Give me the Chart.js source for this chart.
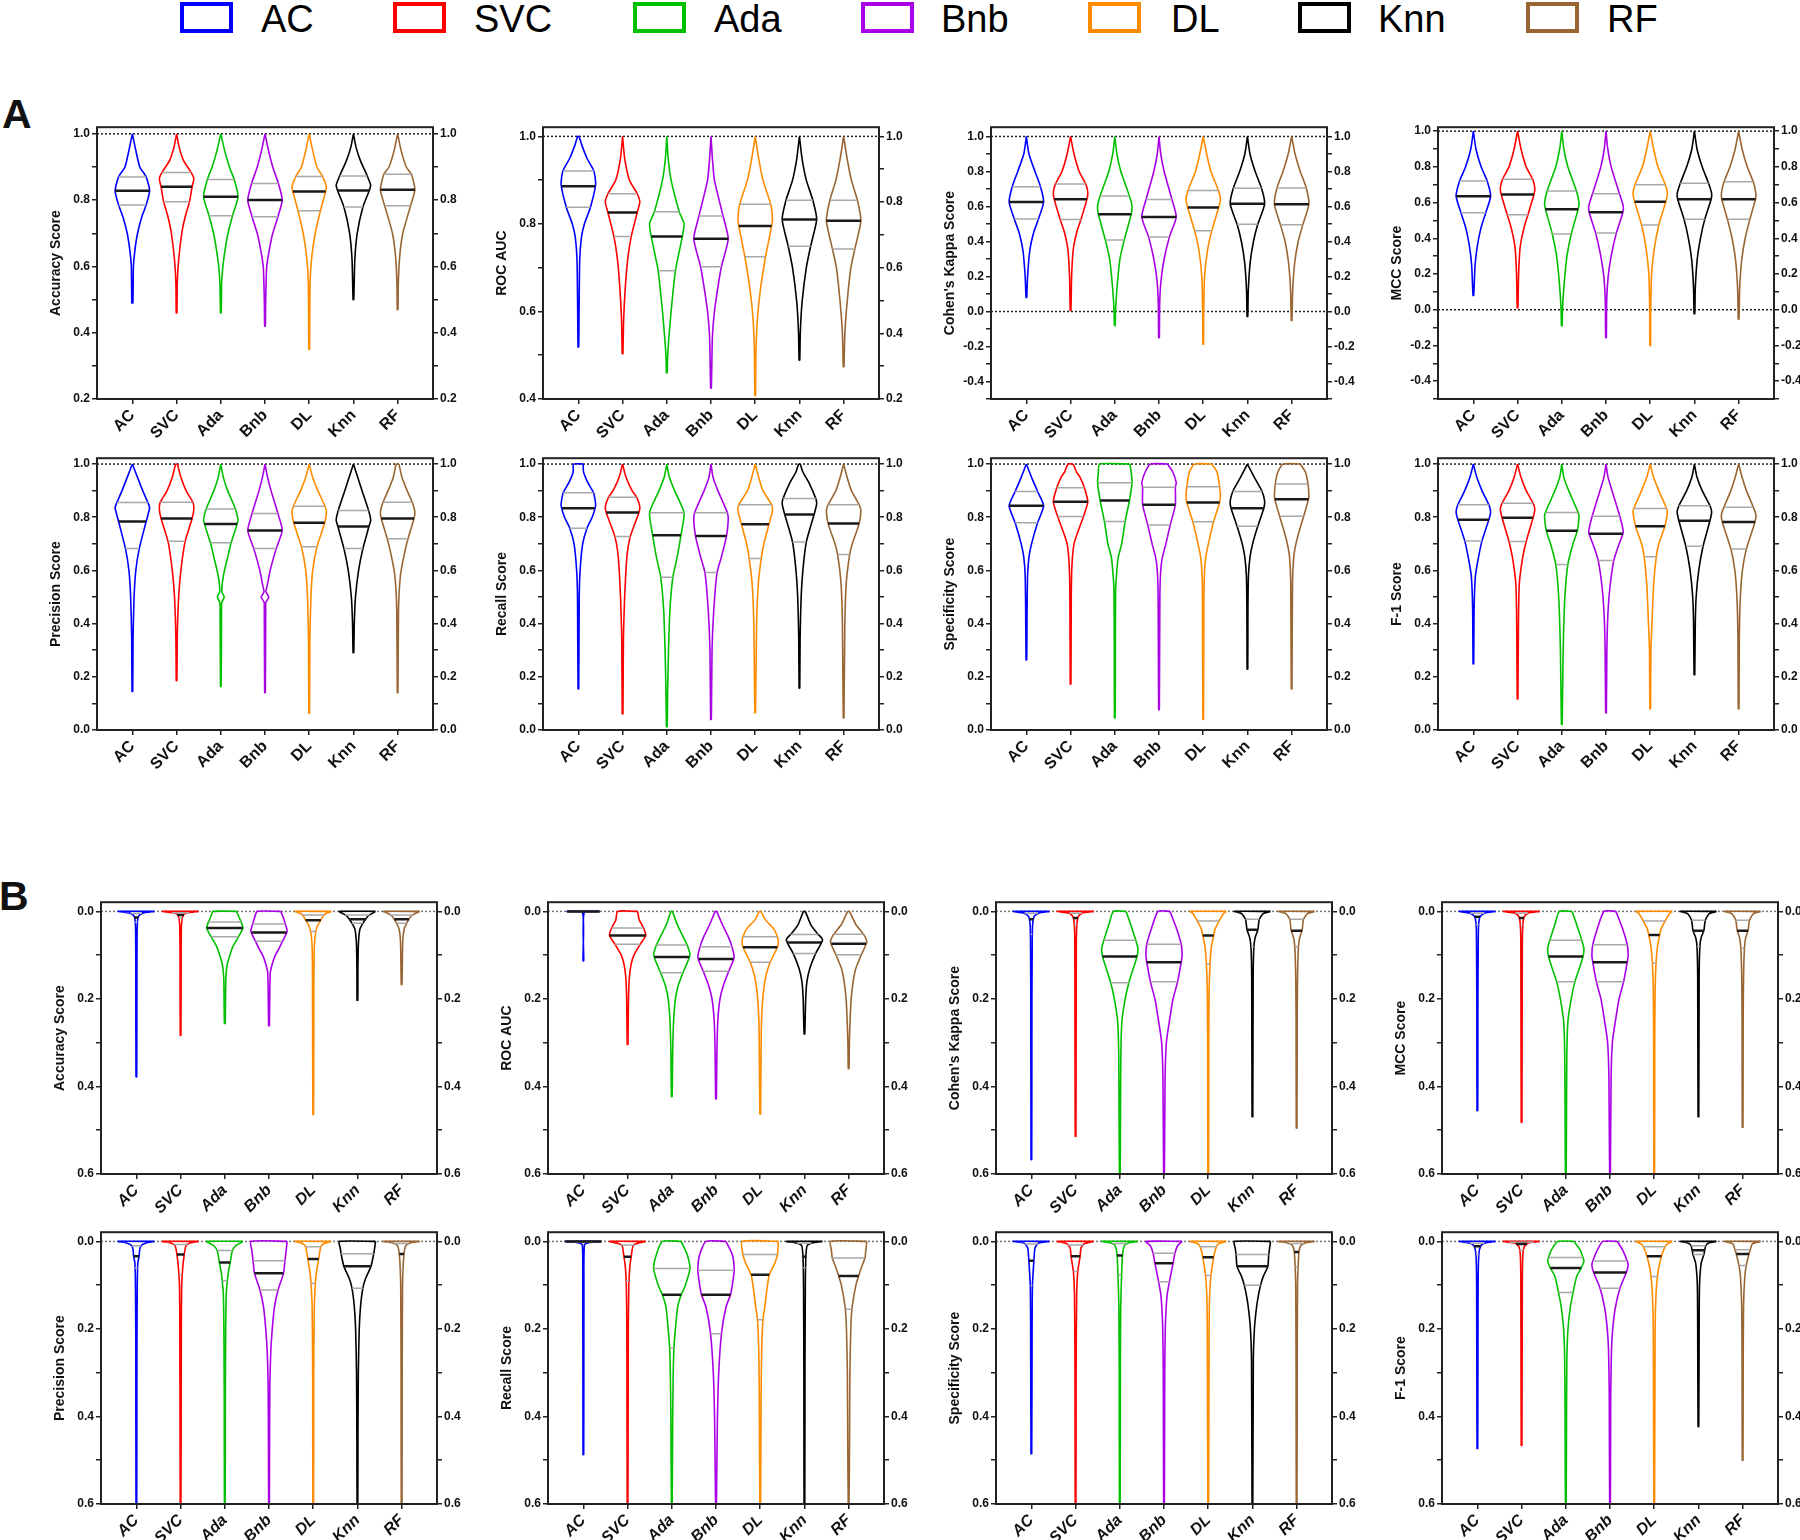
<!DOCTYPE html>
<html>
<head>
<meta charset="utf-8">
<script src="https://cdn.jsdelivr.net/npm/chart.js@4.4.1/dist/chart.umd.min.js"></script>
<style>
  body { margin: 0; width: 1800px; height: 1540px; background: #fff; position: relative; overflow: hidden; font-family: 'Liberation Sans', Arial, sans-serif; }
  .lg-box { position: absolute; top: 2px; width: 45px; height: 23px; border: 4px solid; }
  .lg-txt { position: absolute; top: 0; font-size: 38px; line-height: 38px; color: #000; }
  .letter { position: absolute; font-size: 41px; line-height: 41px; font-weight: bold; color: #111; }
</style>
</head>
<body>
<div class="letter" style="left:2px;top:94px">A</div>
<div class="letter" style="left:-1px;top:876px">B</div>
<div id="legend"></div>
<script>
// ---- data ----
const models = ['AC', 'SVC', 'Ada', 'Bnb', 'DL', 'Knn', 'RF'];
const colors = ['#0000ff', '#ff0000', '#00c000', '#aa00e6', '#ff8c00', '#000000', '#996633'];

// quartiles per model: [lower quartile, median, upper quartile]
// violin outlines: [value, relative half width] knots, top to bottom

// A - accuracy
const accA_q = [[0.785,0.828,0.870],[0.795,0.840,0.883],[0.753,0.810,0.862],[0.750,0.800,0.850],[0.768,0.826,0.871],[0.779,0.829,0.873],[0.783,0.831,0.878]];
const accA_v = [
  [[1,0],[0.95,0.2],[0.9,0.43],[0.87,0.8],[0.828,1],[0.785,0.8],[0.75,0.55],[0.7,0.3],[0.65,0.15],[0.6,0.06],[0.49,0.03]],
  [[1,0],[0.96,0.15],[0.92,0.4],[0.883,0.85],[0.865,1],[0.84,0.9],[0.795,0.75],[0.75,0.5],[0.7,0.3],[0.62,0.12],[0.55,0.04],[0.46,0.02]],
  [[1,0],[0.95,0.22],[0.9,0.5],[0.862,0.78],[0.81,1],[0.753,0.68],[0.7,0.42],[0.65,0.25],[0.6,0.12],[0.55,0.05],[0.46,0.02]],
  [[1,0],[0.95,0.2],[0.9,0.45],[0.85,0.78],[0.8,1],[0.75,0.75],[0.7,0.45],[0.65,0.25],[0.6,0.1],[0.5,0.04],[0.42,0.02]],
  [[1,0],[0.95,0.2],[0.9,0.45],[0.871,0.78],[0.84,1],[0.826,0.95],[0.768,0.65],[0.7,0.35],[0.63,0.15],[0.55,0.05],[0.35,0.02]],
  [[1,0],[0.96,0.15],[0.92,0.4],[0.873,0.8],[0.845,1],[0.829,0.92],[0.779,0.55],[0.7,0.22],[0.62,0.08],[0.5,0.02]],
  [[1,0],[0.95,0.2],[0.9,0.5],[0.878,0.8],[0.831,1],[0.783,0.75],[0.7,0.3],[0.63,0.12],[0.55,0.04],[0.47,0.02]]
];

// A - ROC AUC
const rocA_q = [[0.838,0.886,0.921],[0.771,0.826,0.869],[0.693,0.771,0.828],[0.702,0.766,0.818],[0.725,0.795,0.845],[0.749,0.810,0.854],[0.743,0.807,0.854]];
const rocA_v = [
  [[1,0.04],[0.98,0.2],[0.95,0.5],[0.921,0.9],[0.89,1],[0.838,0.7],[0.8,0.35],[0.77,0.18],[0.72,0.08],[0.6,0.04],[0.519,0.02]],
  [[1,0],[0.95,0.12],[0.9,0.4],[0.869,0.85],[0.85,1],[0.826,0.85],[0.771,0.5],[0.72,0.3],[0.65,0.15],[0.58,0.06],[0.504,0.02]],
  [[1,0],[0.95,0.08],[0.9,0.25],[0.828,0.72],[0.8,1],[0.771,0.9],[0.693,0.5],[0.6,0.25],[0.53,0.1],[0.49,0.04],[0.46,0.02]],
  [[1,0],[0.95,0.08],[0.9,0.2],[0.818,0.7],[0.766,1],[0.702,0.6],[0.65,0.38],[0.6,0.2],[0.54,0.08],[0.425,0.02]],
  [[1,0],[0.95,0.2],[0.9,0.45],[0.845,0.9],[0.81,1],[0.795,0.95],[0.725,0.6],[0.65,0.3],[0.58,0.12],[0.5,0.04],[0.408,0.02]],
  [[1,0],[0.95,0.15],[0.9,0.4],[0.854,0.78],[0.81,1],[0.749,0.65],[0.7,0.4],[0.62,0.15],[0.55,0.05],[0.489,0.02]],
  [[1,0],[0.95,0.2],[0.9,0.45],[0.854,0.8],[0.807,1],[0.743,0.65],[0.7,0.42],[0.62,0.2],[0.55,0.07],[0.474,0.02]]
];

// A - Cohen's kappa
const kapA_q = [[0.528,0.626,0.713],[0.525,0.642,0.728],[0.409,0.555,0.660],[0.425,0.540,0.640],[0.462,0.594,0.692],[0.498,0.615,0.704],[0.496,0.613,0.706]];
const kapA_v = [
  [[1,0],[0.9,0.15],[0.8,0.5],[0.713,0.82],[0.626,1],[0.528,0.7],[0.45,0.42],[0.35,0.2],[0.2,0.07],[0.081,0.02]],
  [[1,0],[0.9,0.2],[0.8,0.5],[0.728,0.88],[0.68,1],[0.642,0.95],[0.525,0.6],[0.45,0.35],[0.35,0.15],[0.2,0.06],[0.006,0.02]],
  [[1,0],[0.9,0.12],[0.8,0.35],[0.66,0.85],[0.6,1],[0.555,0.95],[0.409,0.55],[0.3,0.3],[0.15,0.14],[0,0.04],[-0.079,0.02]],
  [[1,0],[0.9,0.1],[0.8,0.3],[0.64,0.75],[0.54,1],[0.425,0.6],[0.3,0.3],[0.18,0.12],[0.05,0.04],[-0.149,0.02]],
  [[1,0],[0.9,0.2],[0.8,0.45],[0.692,0.88],[0.64,1],[0.594,0.9],[0.462,0.5],[0.35,0.25],[0.2,0.08],[0,0.03],[-0.187,0.02]],
  [[1,0],[0.9,0.15],[0.8,0.45],[0.704,0.82],[0.615,1],[0.498,0.6],[0.4,0.35],[0.28,0.16],[0.12,0.05],[-0.028,0.02]],
  [[1,0],[0.9,0.2],[0.8,0.5],[0.706,0.85],[0.613,1],[0.496,0.65],[0.4,0.38],[0.28,0.18],[0.12,0.06],[-0.051,0.02]]
];

// A - MCC
const mccA_q = [[0.543,0.636,0.721],[0.532,0.645,0.730],[0.424,0.563,0.665],[0.429,0.546,0.649],[0.474,0.604,0.700],[0.506,0.619,0.708],[0.506,0.619,0.716]];
const mccA_v = [
  [[1,0],[0.9,0.15],[0.8,0.45],[0.721,0.8],[0.636,1],[0.543,0.72],[0.45,0.42],[0.35,0.22],[0.25,0.1],[0.08,0.02]],
  [[1,0],[0.9,0.2],[0.8,0.5],[0.73,0.88],[0.68,1],[0.645,0.95],[0.532,0.6],[0.45,0.35],[0.35,0.15],[0.2,0.06],[0.011,0.02]],
  [[1,0],[0.9,0.12],[0.8,0.35],[0.665,0.85],[0.6,1],[0.563,0.95],[0.424,0.55],[0.3,0.3],[0.15,0.14],[0,0.04],[-0.089,0.02]],
  [[1,0],[0.9,0.1],[0.8,0.3],[0.649,0.78],[0.58,1],[0.546,0.98],[0.429,0.6],[0.3,0.3],[0.18,0.12],[0.05,0.04],[-0.156,0.02]],
  [[1,0],[0.9,0.2],[0.8,0.45],[0.7,0.88],[0.65,1],[0.604,0.9],[0.474,0.5],[0.35,0.25],[0.2,0.08],[0,0.03],[-0.2,0.02]],
  [[1,0],[0.9,0.15],[0.8,0.45],[0.708,0.82],[0.65,1],[0.619,0.97],[0.506,0.6],[0.4,0.35],[0.28,0.16],[0.12,0.05],[-0.022,0.02]],
  [[1,0],[0.9,0.2],[0.8,0.5],[0.716,0.85],[0.65,1],[0.619,0.98],[0.506,0.65],[0.4,0.38],[0.28,0.18],[0.12,0.06],[-0.052,0.02]]
];

// A - precision
const preA_q = [[0.682,0.784,0.855],[0.710,0.795,0.856],[0.704,0.775,0.831],[0.682,0.750,0.814],[0.689,0.779,0.841],[0.682,0.765,0.825],[0.719,0.795,0.856]];
const preA_v = [
  [[1,0],[0.95,0.3],[0.9,0.6],[0.855,0.9],[0.835,1],[0.784,0.8],[0.682,0.4],[0.6,0.2],[0.5,0.1],[0.35,0.04],[0.145,0.02]],
  [[1,0.05],[0.95,0.25],[0.9,0.55],[0.856,0.95],[0.83,1],[0.795,0.9],[0.71,0.5],[0.6,0.25],[0.5,0.12],[0.35,0.04],[0.186,0.02]],
  [[1,0],[0.95,0.15],[0.9,0.4],[0.831,0.85],[0.79,1],[0.775,0.95],[0.704,0.6],[0.65,0.4],[0.58,0.15],[0.52,0.06],[0.5,0.2],[0.48,0.06],[0.45,0.04],[0.164,0.02]],
  [[1,0],[0.95,0.15],[0.9,0.35],[0.814,0.75],[0.75,1],[0.682,0.65],[0.6,0.3],[0.54,0.12],[0.52,0.05],[0.5,0.22],[0.48,0.05],[0.46,0.04],[0.141,0.02]],
  [[1,0],[0.95,0.2],[0.9,0.5],[0.841,0.92],[0.82,1],[0.779,0.9],[0.689,0.45],[0.6,0.2],[0.5,0.1],[0.35,0.04],[0.064,0.02]],
  [[1,0],[0.95,0.25],[0.9,0.5],[0.825,0.88],[0.79,1],[0.765,0.9],[0.682,0.55],[0.6,0.3],[0.5,0.12],[0.4,0.05],[0.291,0.02]],
  [[1,0.08],[0.95,0.25],[0.9,0.55],[0.856,0.85],[0.82,1],[0.795,0.95],[0.719,0.6],[0.65,0.35],[0.58,0.16],[0.45,0.05],[0.141,0.02]]
];

// A - recall
const recA_q = [[0.759,0.834,0.892],[0.728,0.818,0.875],[0.574,0.732,0.817],[0.592,0.729,0.817],[0.645,0.774,0.847],[0.707,0.810,0.870],[0.660,0.776,0.847]];
const recA_v = [
  [[1,0.28],[0.97,0.3],[0.93,0.55],[0.892,0.88],[0.845,1],[0.8,0.8],[0.759,0.5],[0.7,0.25],[0.6,0.1],[0.5,0.05],[0.155,0.02]],
  [[1,0],[0.95,0.2],[0.9,0.55],[0.875,0.82],[0.84,1],[0.818,0.95],[0.728,0.45],[0.65,0.25],[0.5,0.12],[0.35,0.05],[0.061,0.02]],
  [[1,0],[0.95,0.15],[0.9,0.45],[0.817,1],[0.732,0.82],[0.65,0.6],[0.574,0.35],[0.45,0.18],[0.3,0.1],[0.15,0.05],[0.012,0.02]],
  [[1,0],[0.95,0.12],[0.9,0.4],[0.817,0.95],[0.79,1],[0.729,0.9],[0.65,0.6],[0.592,0.35],[0.45,0.16],[0.3,0.06],[0.04,0.02]],
  [[1,0],[0.95,0.2],[0.9,0.45],[0.847,0.95],[0.825,1],[0.774,0.8],[0.7,0.5],[0.645,0.35],[0.55,0.18],[0.4,0.08],[0.065,0.02]],
  [[1,0.05],[0.97,0.2],[0.93,0.55],[0.87,0.95],[0.85,1],[0.81,0.85],[0.707,0.4],[0.6,0.2],[0.5,0.1],[0.35,0.04],[0.158,0.02]],
  [[1,0],[0.95,0.2],[0.9,0.45],[0.847,0.9],[0.825,1],[0.776,0.9],[0.7,0.5],[0.66,0.35],[0.55,0.15],[0.4,0.07],[0.046,0.02]]
];

// A - specificity
const speA_q = [[0.779,0.843,0.897],[0.803,0.858,0.911],[0.784,0.863,0.930],[0.771,0.847,0.913],[0.783,0.855,0.915],[0.766,0.834,0.897],[0.804,0.868,0.925]];
const speA_v = [
  [[1,0],[0.95,0.3],[0.897,0.65],[0.843,1],[0.779,0.65],[0.7,0.3],[0.65,0.15],[0.58,0.07],[0.45,0.04],[0.264,0.02]],
  [[1,0.15],[0.97,0.35],[0.95,0.55],[0.911,0.8],[0.858,1],[0.803,0.75],[0.75,0.45],[0.7,0.2],[0.62,0.08],[0.5,0.04],[0.173,0.02]],
  [[1,0.88],[0.97,0.95],[0.93,1],[0.863,0.85],[0.784,0.6],[0.7,0.4],[0.65,0.2],[0.6,0.12],[0.53,0.05],[0.3,0.03],[0.046,0.02]],
  [[1,0.5],[0.97,0.8],[0.93,1],[0.913,0.95],[0.847,0.95],[0.771,0.65],[0.7,0.4],[0.65,0.2],[0.6,0.1],[0.5,0.05],[0.077,0.02]],
  [[1,0.5],[0.97,0.8],[0.915,0.95],[0.88,1],[0.855,0.95],[0.783,0.6],[0.7,0.3],[0.65,0.15],[0.6,0.08],[0.5,0.04],[0.04,0.02]],
  [[1,0],[0.95,0.4],[0.897,0.85],[0.86,1],[0.834,0.95],[0.766,0.6],[0.7,0.3],[0.65,0.15],[0.58,0.06],[0.45,0.03],[0.229,0.02]],
  [[1,0.5],[0.97,0.8],[0.925,0.95],[0.88,1],[0.868,0.98],[0.804,0.7],[0.75,0.45],[0.7,0.25],[0.65,0.12],[0.55,0.05],[0.155,0.02]]
];

// A - F-1
const f1A_q = [[0.711,0.791,0.847],[0.709,0.798,0.853],[0.622,0.749,0.818],[0.637,0.738,0.804],[0.651,0.766,0.833],[0.691,0.787,0.843],[0.681,0.782,0.838]];
const f1A_v = [
  [[1,0],[0.95,0.2],[0.9,0.5],[0.847,0.9],[0.82,1],[0.791,0.9],[0.711,0.5],[0.65,0.3],[0.58,0.12],[0.45,0.04],[0.249,0.02]],
  [[1,0],[0.95,0.2],[0.9,0.5],[0.853,0.9],[0.83,1],[0.798,0.9],[0.709,0.5],[0.65,0.3],[0.55,0.1],[0.4,0.05],[0.117,0.02]],
  [[1,0],[0.95,0.12],[0.9,0.4],[0.818,0.95],[0.8,1],[0.749,0.9],[0.7,0.65],[0.622,0.35],[0.5,0.18],[0.3,0.08],[0.021,0.02]],
  [[1,0],[0.95,0.12],[0.9,0.35],[0.804,0.8],[0.75,1],[0.738,0.98],[0.68,0.65],[0.637,0.45],[0.55,0.25],[0.45,0.12],[0.3,0.05],[0.065,0.02]],
  [[1,0],[0.95,0.2],[0.9,0.5],[0.833,0.95],[0.82,1],[0.766,0.85],[0.7,0.5],[0.651,0.35],[0.55,0.2],[0.4,0.1],[0.3,0.04],[0.08,0.02]],
  [[1,0],[0.95,0.15],[0.9,0.45],[0.843,0.9],[0.82,1],[0.787,0.9],[0.691,0.5],[0.6,0.25],[0.5,0.1],[0.4,0.05],[0.208,0.02]],
  [[1,0],[0.95,0.2],[0.9,0.45],[0.838,0.85],[0.81,1],[0.782,0.95],[0.681,0.45],[0.6,0.22],[0.5,0.1],[0.35,0.04],[0.08,0.02]]
];

// B - accuracy
const accB_q = [[0.005,0.014,0.025],[0.003,0.008,0.015],[0.024,0.038,0.058],[0.029,0.048,0.068],[0.008,0.020,0.046],[0.008,0.018,0.027],[0.008,0.018,0.027]];
const accB_v = [
  [[0,1],[0.004,0.35],[0.01,0.14],[0.02,0.07],[0.05,0.04],[0.15,0.03],[0.378,0.02]],
  [[0,1],[0.004,0.3],[0.01,0.13],[0.03,0.05],[0.1,0.03],[0.283,0.02]],
  [[0,0.65],[0.01,0.75],[0.024,0.9],[0.038,1],[0.058,0.75],[0.08,0.45],[0.1,0.28],[0.12,0.14],[0.15,0.06],[0.2,0.04],[0.256,0.02]],
  [[0,0.65],[0.015,0.8],[0.029,0.9],[0.045,1],[0.068,0.75],[0.085,0.55],[0.1,0.35],[0.12,0.18],[0.14,0.07],[0.2,0.04],[0.261,0.02]],
  [[0,1],[0.005,0.7],[0.01,0.55],[0.02,0.42],[0.03,0.27],[0.046,0.14],[0.08,0.06],[0.15,0.04],[0.464,0.02]],
  [[0,1],[0.005,0.8],[0.01,0.6],[0.018,0.45],[0.027,0.3],[0.04,0.14],[0.07,0.06],[0.12,0.03],[0.203,0.02]],
  [[0,1],[0.005,0.75],[0.01,0.55],[0.018,0.4],[0.027,0.28],[0.04,0.14],[0.07,0.06],[0.167,0.02]]
];

// B - ROC AUC
const rocB_q = [[0,0,0],[0.038,0.055,0.075],[0.077,0.104,0.140],[0.081,0.109,0.137],[0.058,0.082,0.116],[0.053,0.071,0.096],[0.052,0.074,0.099]];
const rocB_v = [
  [[0,0.9],[0.002,0.05],[0.113,0.02]],
  [[0,0.55],[0.02,0.65],[0.038,0.88],[0.055,1],[0.075,0.7],[0.1,0.35],[0.12,0.2],[0.15,0.1],[0.2,0.05],[0.304,0.02]],
  [[0,0.04],[0.03,0.3],[0.06,0.65],[0.077,0.85],[0.1,1],[0.14,0.62],[0.17,0.35],[0.2,0.2],[0.25,0.1],[0.32,0.05],[0.423,0.02]],
  [[0,0.04],[0.03,0.35],[0.06,0.7],[0.081,0.88],[0.105,1],[0.137,0.7],[0.17,0.4],[0.2,0.22],[0.25,0.1],[0.32,0.05],[0.428,0.02]],
  [[0,0.04],[0.02,0.3],[0.04,0.75],[0.058,0.95],[0.07,1],[0.082,0.95],[0.116,0.55],[0.15,0.3],[0.2,0.14],[0.27,0.06],[0.463,0.02]],
  [[0,0.05],[0.03,0.35],[0.05,0.7],[0.065,1],[0.096,0.62],[0.13,0.3],[0.16,0.14],[0.2,0.07],[0.28,0.02]],
  [[0,0.05],[0.03,0.4],[0.052,0.82],[0.07,1],[0.099,0.7],[0.13,0.4],[0.16,0.25],[0.2,0.14],[0.25,0.08],[0.3,0.04],[0.359,0.02]]
];

// B - Cohen's kappa
const kapB_q = [[0.005,0.018,0.052],[0.004,0.015,0.030],[0.066,0.103,0.163],[0.075,0.116,0.161],[0.022,0.055,0.120],[0.018,0.042,0.081],[0.018,0.044,0.081]];
const kapB_v = [
  [[0,1],[0.004,0.4],[0.012,0.15],[0.03,0.07],[0.06,0.05],[0.2,0.03],[0.567,0.02]],
  [[0,1],[0.004,0.35],[0.012,0.15],[0.03,0.07],[0.08,0.04],[0.514,0.02]],
  [[0,0.35],[0.03,0.6],[0.066,0.88],[0.085,1],[0.103,0.95],[0.13,0.75],[0.163,0.5],[0.2,0.3],[0.25,0.12],[0.32,0.06],[0.45,0.04],[0.6,0.02]],
  [[0,0.33],[0.04,0.7],[0.075,0.95],[0.1,1],[0.116,0.95],[0.161,0.75],[0.2,0.5],[0.25,0.3],[0.3,0.13],[0.38,0.06],[0.6,0.02]],
  [[0,1],[0.005,0.85],[0.022,0.6],[0.04,0.38],[0.055,0.3],[0.08,0.18],[0.12,0.1],[0.18,0.05],[0.3,0.03],[0.6,0.02]],
  [[0,1],[0.005,0.6],[0.018,0.38],[0.042,0.3],[0.06,0.15],[0.081,0.08],[0.15,0.04],[0.469,0.02]],
  [[0,1],[0.005,0.6],[0.018,0.38],[0.044,0.3],[0.06,0.17],[0.081,0.1],[0.15,0.05],[0.25,0.03],[0.495,0.02]]
];

// B - MCC
const mccB_q = [[0.004,0.012,0.030],[0.004,0.015,0.030],[0.066,0.103,0.161],[0.076,0.116,0.161],[0.022,0.054,0.118],[0.020,0.044,0.080],[0.020,0.044,0.084]];
const mccB_v = [
  [[0,1],[0.004,0.4],[0.012,0.15],[0.03,0.07],[0.06,0.05],[0.2,0.03],[0.455,0.02]],
  [[0,1],[0.004,0.35],[0.012,0.15],[0.03,0.07],[0.08,0.04],[0.482,0.02]],
  [[0,0.35],[0.03,0.6],[0.066,0.88],[0.085,1],[0.103,0.95],[0.13,0.75],[0.161,0.5],[0.2,0.3],[0.25,0.12],[0.32,0.06],[0.45,0.04],[0.6,0.02]],
  [[0,0.33],[0.04,0.7],[0.076,0.95],[0.1,1],[0.116,0.95],[0.161,0.75],[0.2,0.5],[0.25,0.3],[0.3,0.13],[0.38,0.06],[0.6,0.02]],
  [[0,1],[0.005,0.85],[0.022,0.6],[0.04,0.38],[0.054,0.3],[0.08,0.18],[0.118,0.1],[0.18,0.05],[0.3,0.03],[0.6,0.02]],
  [[0,1],[0.005,0.6],[0.02,0.38],[0.044,0.3],[0.06,0.15],[0.08,0.08],[0.15,0.04],[0.469,0.02]],
  [[0,1],[0.005,0.6],[0.02,0.38],[0.044,0.3],[0.06,0.17],[0.084,0.1],[0.15,0.05],[0.25,0.03],[0.493,0.02]]
];

// B - precision
const preB_q = [[0.010,0.034,0.060],[0.007,0.030,0.076],[0.021,0.048,0.090],[0.044,0.073,0.111],[0.012,0.040,0.096],[0.028,0.057,0.107],[0.005,0.029,0.065]];
const preB_v = [
  [[0,1],[0.004,0.5],[0.01,0.25],[0.02,0.18],[0.034,0.15],[0.05,0.08],[0.1,0.05],[0.25,0.03],[0.6,0.02]],
  [[0,1],[0.004,0.5],[0.01,0.3],[0.03,0.2],[0.06,0.12],[0.1,0.06],[0.2,0.04],[0.6,0.02]],
  [[0,1],[0.005,0.8],[0.01,0.6],[0.021,0.42],[0.048,0.3],[0.07,0.2],[0.09,0.14],[0.12,0.08],[0.2,0.05],[0.35,0.03],[0.6,0.02]],
  [[0,1],[0.02,0.95],[0.044,0.88],[0.073,0.8],[0.111,0.5],[0.15,0.3],[0.2,0.18],[0.25,0.1],[0.32,0.05],[0.45,0.03],[0.6,0.02]],
  [[0,1],[0.005,0.6],[0.012,0.42],[0.04,0.3],[0.07,0.18],[0.096,0.12],[0.15,0.06],[0.3,0.03],[0.6,0.02]],
  [[0,1],[0.015,0.95],[0.028,0.9],[0.057,0.75],[0.085,0.45],[0.107,0.3],[0.15,0.17],[0.2,0.1],[0.3,0.05],[0.45,0.03],[0.6,0.02]],
  [[0,1],[0.004,0.45],[0.01,0.22],[0.029,0.13],[0.06,0.08],[0.1,0.05],[0.3,0.03],[0.6,0.02]]
];

// B - recall
const recB_q = [[0,0,0.002],[0.008,0.035,0.090],[0.062,0.122,0.243],[0.066,0.122,0.211],[0.030,0.076,0.179],[0.004,0.035,0.060],[0.038,0.079,0.155]];
const recB_v = [
  [[0,1],[0.003,0.3],[0.008,0.06],[0.1,0.03],[0.487,0.02]],
  [[0,1],[0.005,0.5],[0.01,0.3],[0.035,0.2],[0.06,0.12],[0.1,0.07],[0.2,0.04],[0.6,0.02]],
  [[0,0.52],[0.03,0.85],[0.062,1],[0.1,0.75],[0.122,0.52],[0.15,0.32],[0.2,0.2],[0.243,0.12],[0.3,0.08],[0.4,0.05],[0.6,0.02]],
  [[0,0.55],[0.03,0.9],[0.066,1],[0.1,0.9],[0.122,0.8],[0.15,0.55],[0.211,0.3],[0.3,0.15],[0.4,0.08],[0.5,0.05],[0.6,0.02]],
  [[0,1],[0.03,0.95],[0.05,0.8],[0.076,0.5],[0.1,0.4],[0.15,0.25],[0.179,0.15],[0.25,0.08],[0.35,0.05],[0.6,0.02]],
  [[0,1],[0.004,0.4],[0.01,0.15],[0.035,0.08],[0.1,0.05],[0.3,0.03],[0.6,0.02]],
  [[0,1],[0.02,0.95],[0.038,0.9],[0.06,0.7],[0.079,0.55],[0.1,0.4],[0.155,0.18],[0.2,0.12],[0.3,0.07],[0.45,0.05],[0.6,0.02]]
];

// B - specificity
const speB_q = [[0.006,0.044,0.101],[0.008,0.034,0.069],[0.005,0.032,0.076],[0.027,0.050,0.092],[0.012,0.036,0.078],[0.030,0.057,0.100],[0.005,0.024,0.059]];
const speB_v = [
  [[0,1],[0.004,0.4],[0.015,0.2],[0.044,0.14],[0.1,0.06],[0.2,0.04],[0.485,0.02]],
  [[0,1],[0.005,0.5],[0.015,0.3],[0.034,0.25],[0.069,0.12],[0.12,0.06],[0.3,0.03],[0.6,0.02]],
  [[0,1],[0.004,0.45],[0.01,0.25],[0.032,0.15],[0.076,0.1],[0.15,0.05],[0.3,0.03],[0.6,0.02]],
  [[0,1],[0.01,0.75],[0.027,0.6],[0.05,0.5],[0.092,0.3],[0.12,0.18],[0.15,0.12],[0.2,0.07],[0.3,0.04],[0.6,0.02]],
  [[0,1],[0.005,0.6],[0.012,0.45],[0.036,0.3],[0.078,0.15],[0.12,0.08],[0.2,0.05],[0.6,0.02]],
  [[0,1],[0.015,0.95],[0.03,0.9],[0.057,0.85],[0.08,0.6],[0.1,0.45],[0.13,0.3],[0.16,0.2],[0.2,0.11],[0.27,0.05],[0.6,0.02]],
  [[0,1],[0.004,0.45],[0.01,0.22],[0.024,0.13],[0.059,0.08],[0.1,0.05],[0.3,0.03],[0.6,0.02]]
];

// B - F-1
const f1B_q = [[0.004,0.011,0.030],[0.002,0.006,0.020],[0.037,0.061,0.117],[0.045,0.071,0.107],[0.012,0.034,0.080],[0.010,0.020,0.030],[0.019,0.029,0.055]];
const f1B_v = [
  [[0,1],[0.004,0.4],[0.011,0.18],[0.03,0.08],[0.1,0.04],[0.473,0.02]],
  [[0,1],[0.004,0.35],[0.012,0.15],[0.03,0.07],[0.1,0.04],[0.466,0.02]],
  [[0,0.45],[0.02,0.8],[0.037,0.95],[0.045,1],[0.061,0.85],[0.08,0.6],[0.117,0.4],[0.15,0.25],[0.2,0.12],[0.27,0.06],[0.4,0.04],[0.6,0.02]],
  [[0,0.4],[0.02,0.7],[0.045,0.95],[0.055,1],[0.071,0.9],[0.107,0.55],[0.15,0.3],[0.2,0.15],[0.25,0.08],[0.35,0.04],[0.6,0.02]],
  [[0,1],[0.005,0.75],[0.012,0.6],[0.034,0.4],[0.06,0.25],[0.08,0.18],[0.12,0.1],[0.2,0.05],[0.6,0.02]],
  [[0,1],[0.004,0.55],[0.01,0.4],[0.02,0.35],[0.03,0.3],[0.05,0.15],[0.1,0.06],[0.2,0.04],[0.423,0.02]],
  [[0,1],[0.005,0.55],[0.019,0.42],[0.029,0.35],[0.055,0.2],[0.08,0.12],[0.15,0.05],[0.3,0.03],[0.5,0.02]]
];

// ---- layout ----
const COL_LEFT_A = [97, 543, 991, 1438];
const COL_LEFT_B = [101, 548, 996, 1442];
const ROW_TOP = [126, 457, 901, 1231];
const PLOT_W = 336, PLOT_H = 273;
const AXIS_L = 60, AXIS_R = 40, PAD_T = 8, AXIS_B = 62;
const X_MIN = -0.8, X_MAX = 6.8;
const HW_A = 0.39, HW_B = 0.41;

const panels = [
  { title: 'Accuracy Score', col: 0, row: 0, y: [0.2, 1.02], q: accA_q, v: accA_v, ref: [1] },
  { title: 'ROC AUC', col: 1, row: 0, y: [0.4, 1.021], y2: [0.2, 1.028], q: rocA_q, v: rocA_v, ref: [1] },
  { title: "Cohen's Kappa Score", col: 2, row: 0, y: [-0.5, 1.053], q: kapA_q, v: kapA_v, ref: [1, 0] },
  { title: 'MCC Score', col: 3, row: 0, y: [-0.5, 1.022], q: mccA_q, v: mccA_v, ref: [1, 0] },
  { title: 'Precision Score', col: 0, row: 1, y: [0, 1.022], q: preA_q, v: preA_v, ref: [1] },
  { title: 'Recall Score', col: 1, row: 1, y: [0, 1.022], q: recA_q, v: recA_v, ref: [1] },
  { title: 'Specificity Score', col: 2, row: 1, y: [0, 1.022], q: speA_q, v: speA_v, ref: [1] },
  { title: 'F-1 Score', col: 3, row: 1, y: [0, 1.022], q: f1A_q, v: f1A_v, ref: [1] },
  { title: 'Accuracy Score', col: 0, row: 2, y: [-0.021, 0.6], q: accB_q, v: accB_v, ref: [0], b: true },
  { title: 'ROC AUC', col: 1, row: 2, y: [-0.021, 0.6], q: rocB_q, v: rocB_v, ref: [0], b: true },
  { title: "Cohen's Kappa Score", col: 2, row: 2, y: [-0.021, 0.6], q: kapB_q, v: kapB_v, ref: [0], b: true },
  { title: 'MCC Score', col: 3, row: 2, y: [-0.021, 0.6], q: mccB_q, v: mccB_v, ref: [0], b: true },
  { title: 'Precision Score', col: 0, row: 3, y: [-0.021, 0.6], q: preB_q, v: preB_v, ref: [0], b: true },
  { title: 'Recall Score', col: 1, row: 3, y: [-0.021, 0.6], q: recB_q, v: recB_v, ref: [0], b: true },
  { title: 'Specificity Score', col: 2, row: 3, y: [-0.021, 0.6], q: speB_q, v: speB_v, ref: [0], b: true },
  { title: 'F-1 Score', col: 3, row: 3, y: [-0.021, 0.6], q: f1B_q, v: f1B_v, ref: [0], b: true }
];

// legend (html)
const legendX = [180, 393, 633, 861, 1088, 1298, 1526];
const legendTextX = [261, 474, 714, 941, 1171, 1378, 1607];
const lg = document.getElementById('legend');
models.forEach((m, i) => {
  const box = document.createElement('div');
  box.className = 'lg-box';
  box.style.left = legendX[i] + 'px';
  box.style.borderColor = colors[i];
  lg.appendChild(box);
  const t = document.createElement('div');
  t.className = 'lg-txt';
  t.style.left = legendTextX[i] + 'px';
  t.textContent = m;
  lg.appendChild(t);
});

Chart.defaults.font.family = "'Liberation Sans', Arial, sans-serif";
Chart.defaults.color = '#111';

// outline: right side downwards, left side back up
function violinPoints(i, knots, hw) {
  const right = knots.map(([y, w]) => ({ x: i + w * hw, y }));
  const left = knots.slice().reverse().map(([y, w]) => ({ x: i - w * hw, y }));
  return right.concat(left, [right[0]]);
}

function widthAt(knots, v) {
  for (let k = 0; k < knots.length - 1; k++) {
    const [y0, w0] = knots[k], [y1, w1] = knots[k + 1];
    if ((v - y0) * (v - y1) <= 0) {
      const t = y0 === y1 ? 0 : (v - y0) / (y1 - y0);
      return w0 + t * (w1 - w0);
    }
  }
  return 0;
}

function quartLine(i, knots, v, hw) {
  const w = widthAt(knots, v) * hw;
  return [{ x: i - w, y: v }, { x: i + w, y: v }];
}

function tickValues(min, max) {
  const out = [];
  for (let k = Math.ceil(min * 10 - 1e-6); k <= Math.floor(max * 10 + 1e-6); k++) out.push({ value: k / 10 });
  return out;
}

const tickLabel = v => {
  const k = Math.round(v * 10);
  return k % 2 === 0 ? (k / 10).toFixed(1) : '';
};

const framePlugin = {
  id: 'frame',
  afterDatasetsDraw(chart) {
    const { ctx, chartArea: a } = chart;
    ctx.save();
    ctx.strokeStyle = '#222';
    ctx.lineWidth = 2;
    ctx.strokeRect(a.left, a.top, a.right - a.left, a.bottom - a.top);
    ctx.restore();
  }
};

const line = (data, color, width, order, dash, tension) => ({
  data, borderColor: color, borderWidth: width, order,
  borderDash: dash || [], showLine: true, pointRadius: 0, tension: tension || 0, fill: false
});

function makePanel(p) {
  const left = (p.row < 2 ? COL_LEFT_A : COL_LEFT_B)[p.col];
  const top = ROW_TOP[p.row];
  const hw = p.b ? HW_B : HW_A;
  const W = AXIS_L + PLOT_W + AXIS_R, H = PAD_T + PLOT_H + AXIS_B;
  const cv = document.createElement('canvas');
  cv.width = W; cv.height = H;
  cv.style.cssText = `position:absolute;left:${left - AXIS_L}px;top:${top - PAD_T}px;width:${W}px;height:${H}px`;
  document.body.appendChild(cv);

  const datasets = [];
  p.ref.forEach(r => datasets.push(line([{ x: X_MIN, y: r }, { x: X_MAX, y: r }], p.b ? '#777' : '#222', 1.5, 3, [2, 2])));
  models.forEach((m, i) => {
    const knots = p.v[i];
    const [lo, med, hi] = p.q[i];
    datasets.push(line(violinPoints(i, knots, hw), colors[i], 1.6, 2, null, 0.2));
    datasets.push(line(quartLine(i, knots, lo, hw), '#a8a8a8', 1.5, 1));
    datasets.push(line(quartLine(i, knots, hi, hw), '#a8a8a8', 1.5, 1));
    datasets.push(line(quartLine(i, knots, med, hw), '#1a1a1a', 2.5, 0));
  });

  const tickGrid = { display: true, drawOnChartArea: false, drawTicks: true, tickLength: 5, color: '#222', lineWidth: 1.5 };
  const yAxis = (range, pos) => ({
    type: 'linear', position: pos, min: range[0], max: range[1], reverse: !!p.b,
    afterBuildTicks: s => { s.ticks = tickValues(range[0], range[1]); },
    afterFit: s => { s.width = pos === 'left' ? AXIS_L : AXIS_R; },
    ticks: { padding: 2, font: { size: 12, weight: 'bold' }, color: '#111', callback: tickLabel },
    grid: tickGrid,
    border: { display: false }
  });

  const y = yAxis(p.y, 'left');
  y.title = { display: true, text: p.title, color: '#111', font: { size: 14, weight: 'bold' }, padding: { top: 10.6, bottom: 0 } };
  const y2 = yAxis(p.y2 || p.y, 'right');

  new Chart(cv, {
    type: 'scatter',
    data: { datasets },
    options: {
      responsive: false, animation: false, devicePixelRatio: 1, events: [],
      layout: { padding: { top: PAD_T, left: 0, right: 0, bottom: 0 } },
      plugins: { legend: { display: false }, tooltip: { enabled: false } },
      scales: {
        x: {
          type: 'linear', min: X_MIN, max: X_MAX,
          afterBuildTicks: s => { s.ticks = models.map((_, i) => ({ value: i })); },
          afterFit: s => { s.height = AXIS_B; },
          ticks: {
            autoSkip: false, minRotation: 45, maxRotation: 45, padding: 2, color: '#111',
            font: { size: 16, weight: 'bold', style: p.b ? 'italic' : 'normal' },
            callback: v => models[Math.round(v)]
          },
          grid: tickGrid,
          border: { display: false }
        },
        y, y2
      }
    },
    plugins: [framePlugin]
  });
}

panels.forEach(makePanel);
</script>
</body>
</html>
